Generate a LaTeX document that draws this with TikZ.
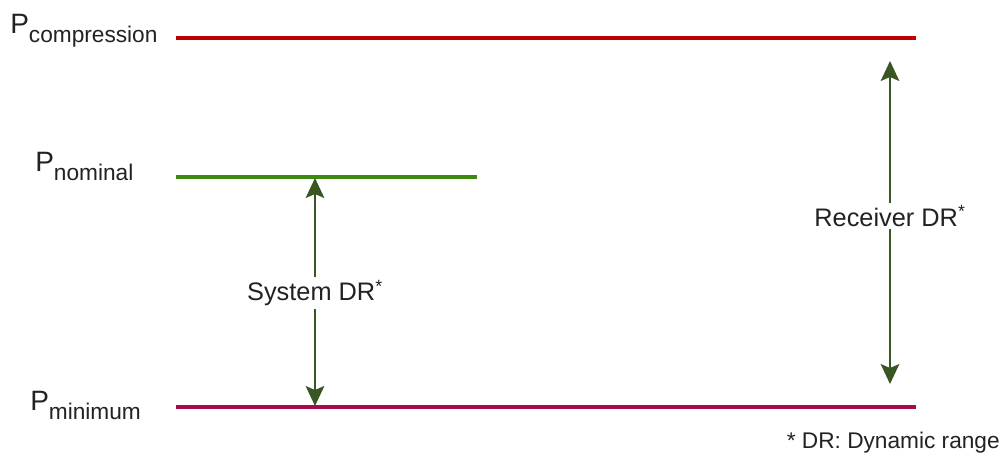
\documentclass[tikz,border=0pt]{standalone}
\usepackage{fontspec}
\setmainfont{Liberation Sans}
\usetikzlibrary{arrows.meta}
\definecolor{compred}{HTML}{C00000}
\definecolor{nomgreen}{HTML}{3E8A10}
\definecolor{minred}{HTML}{A8094A}
\definecolor{arrgreen}{HTML}{385723}
\definecolor{txtgray}{HTML}{222222}
\tikzset{
  level/.style={line width=3pt},
  dr/.style={draw=arrgreen, line width=1.3pt, {Stealth[length=15pt,width=14pt,inset=3pt]}-{Stealth[length=15pt,width=14pt,inset=3pt]}},
  plabel/.style={font=\fontsize{21}{24}\selectfont, text=txtgray, inner sep=0pt},
  drlabel/.style={font=\fontsize{19}{22}\selectfont, text=txtgray, fill=white, inner sep=2pt},
  note/.style={font=\fontsize{17}{20}\selectfont, text=txtgray, inner sep=0pt}
}
\newcommand{\psub}[1]{\raisebox{-0.33em}{\fontsize{17}{20}\selectfont #1}}
\begin{document}
\begin{tikzpicture}[x=0.75pt,y=-0.75pt]
\useasboundingbox (0,0) rectangle (1003,458);
% level lines
\coordinate (c1) at (176,38);
\coordinate (c2) at (916,38);
\coordinate (n1) at (176,177);
\coordinate (n2) at (477,177);
\coordinate (m1) at (176,407);
\coordinate (m2) at (916,407);
\draw[level, draw=compred] (c1) -- (c2);
\draw[level, draw=nomgreen] (n1) -- (n2);
\draw[level, draw=minred] (m1) -- (m2);
% labels
\node[plabel, anchor=base west] (pc) at (10,33) {P\psub{compression}};
\node[plabel, anchor=base west] (pn) at (35,171) {P\psub{nominal}};
\node[plabel, anchor=base west] (pm) at (30,410) {P\psub{minimum}};
% arrows
\coordinate (s1) at (315,178);
\coordinate (s2) at (315,406);
\coordinate (r1) at (890,61);
\coordinate (r2) at (890,384);
\draw[dr] (s1) -- (s2);
\draw[dr] (r1) -- (r2);
\node[drlabel] (sl) at (315,293) {System DR\textsuperscript{*}};
\node[drlabel] (rl) at (890,216) {Receiver DR\textsuperscript{*}};
\node[note, anchor=base east] (nt) at (1000,448) {* DR: Dynamic range};
\end{tikzpicture}
\end{document}
